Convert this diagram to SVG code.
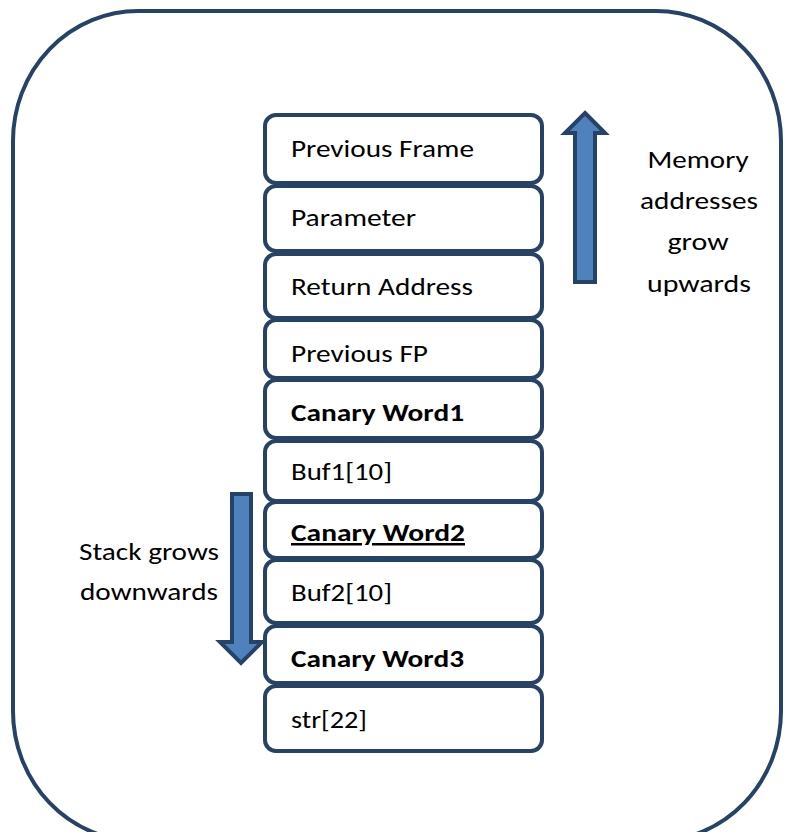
<svg xmlns="http://www.w3.org/2000/svg" width="787" height="832" viewBox="0 0 787 832">
<style>
.frame{fill:#fff;stroke:#264266;stroke-width:4}
.box{fill:#fff;stroke:#264266;stroke-width:4}
.t{font-family:"Carlito","Liberation Sans",sans-serif;font-size:25px;fill:#000}
.b{font-weight:bold}
.lbl{font-family:"Carlito","Liberation Sans",sans-serif;font-size:25px;fill:#000;text-anchor:middle}
.arrow{fill:#4f81bd;stroke:#264266;stroke-width:4}
</style>
<rect class="frame" x="13" y="11" width="768" height="830" rx="125" ry="130"/>
<g id="n1"><rect class="box" x="265" y="115" width="277" height="68" rx="11"/><text class="t" x="291" y="157" textLength="183" lengthAdjust="spacingAndGlyphs">Previous Frame</text></g>
<g id="n2"><rect class="box" x="265" y="186" width="277" height="65" rx="11"/><text class="t" x="291" y="226" textLength="125" lengthAdjust="spacingAndGlyphs">Parameter</text></g>
<g id="n3"><rect class="box" x="265" y="254" width="277" height="64" rx="11"/><text class="t" x="291" y="295" textLength="182" lengthAdjust="spacingAndGlyphs">Return Address</text></g>
<g id="n4"><rect class="box" x="265" y="320" width="277" height="58" rx="11"/><text class="t" x="291" y="362" textLength="137" lengthAdjust="spacingAndGlyphs">Previous FP</text></g>
<g id="n5"><rect class="box" x="265" y="380" width="277" height="58" rx="11"/><text class="t b" x="291" y="421" textLength="173" lengthAdjust="spacingAndGlyphs">Canary Word1</text></g>
<g id="n6"><rect class="box" x="265" y="441" width="277" height="60" rx="11"/><text class="t" x="291" y="480" textLength="101" lengthAdjust="spacingAndGlyphs">Buf1[10]</text></g>
<g id="n7"><rect class="box" x="265" y="502" width="277" height="56" rx="11"/><text class="t b" x="291" y="541" textLength="174" lengthAdjust="spacingAndGlyphs" text-decoration="underline">Canary Word2</text></g>
<g id="n8"><rect class="box" x="265" y="560" width="277" height="63" rx="11"/><text class="t" x="291" y="601" textLength="101" lengthAdjust="spacingAndGlyphs">Buf2[10]</text></g>
<g id="n9"><rect class="box" x="265" y="626" width="277" height="57" rx="11"/><text class="t b" x="291" y="667" textLength="173" lengthAdjust="spacingAndGlyphs">Canary Word3</text></g>
<g id="n10"><rect class="box" x="265" y="686" width="277" height="65" rx="11"/><text class="t" x="291" y="728" textLength="76" lengthAdjust="spacingAndGlyphs">str[22]</text></g>
<g id="connectors">
<polygon id="up" class="arrow" points="585,113 605,133 595,133 595,282 575,282 575,133 565,133"/>
<polygon id="down" class="arrow" points="232,494 251,494 251,642 262,642 241,663 220,642 232,642"/>
</g>
<g id="memlabel"><text class="lbl" x="698" y="168" textLength="101" lengthAdjust="spacingAndGlyphs">Memory</text><text class="lbl" x="699" y="209" textLength="118" lengthAdjust="spacingAndGlyphs">addresses</text><text class="lbl" x="698" y="250" textLength="61" lengthAdjust="spacingAndGlyphs">grow</text><text class="lbl" x="699" y="292" textLength="104" lengthAdjust="spacingAndGlyphs">upwards</text></g>
<g id="stacklabel"><text class="lbl" x="149" y="560" textLength="140" lengthAdjust="spacingAndGlyphs">Stack grows</text><text class="lbl" x="149" y="600" textLength="138" lengthAdjust="spacingAndGlyphs">downwards</text></g>
</svg>
